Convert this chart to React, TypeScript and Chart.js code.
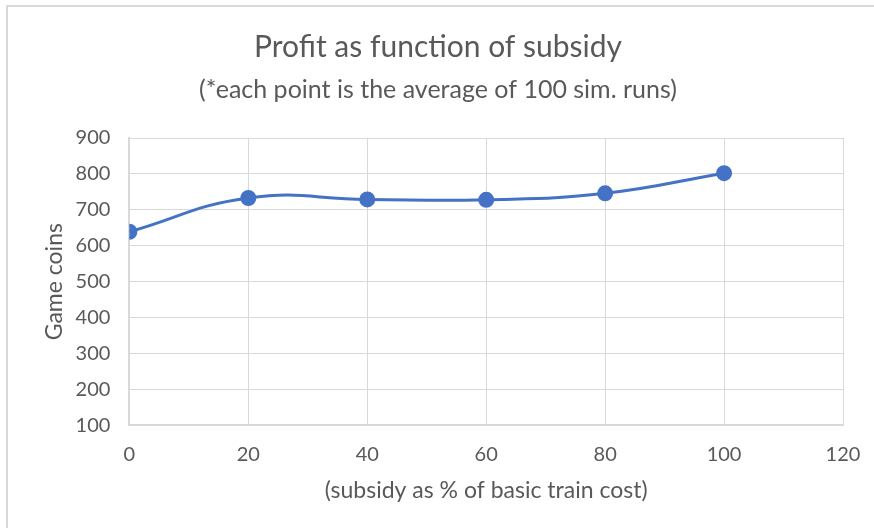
import React, { useEffect, useRef } from "react";
import { Chart, registerables } from "chart.js";

Chart.register(...registerables);

const subsidyPct = [0, 20, 40, 60, 80, 100];
const gameCoins = [639, 733, 729, 728, 746, 802];
const xTicks = [0, 20, 40, 60, 80, 100, 120];
const yTicks = [100, 200, 300, 400, 500, 600, 700, 800, 900];

const FONT = "Lato, 'Open Sans', sans-serif";
const TEXT = "#595959";
const GRID = "#d9d9d9";
const BLUE = "#4472C4";

export default function App() {
  const ref = useRef<HTMLCanvasElement>(null);
  useEffect(() => {
    if (!ref.current) return;
    const chart = new Chart(ref.current, {
      type: "scatter",
      data: {
        datasets: [
          {
            data: subsidyPct.map((x, i) => ({ x, y: gameCoins[i] })),
            showLine: true,
            borderColor: BLUE,
            backgroundColor: BLUE,
            borderWidth: 3,
            pointRadius: 6.5,
            pointHoverRadius: 6.5,
            tension: 0.45,
          },
        ],
      },
      options: {
        animation: false,
        responsive: false,
        maintainAspectRatio: false,
        layout: { padding: { left: 25, right: 31, top: 12, bottom: 24 } },
        plugins: {
          legend: { display: false },
          tooltip: { enabled: false },
          title: {
            display: true,
            text: "Profit as function of subsidy",
            color: TEXT,
            font: { family: FONT, size: 30, weight: "normal" },
            padding: { top: 10, bottom: 10 },
          },
          subtitle: {
            display: true,
            text: "(*each point is the average of 100 sim. runs)",
            color: TEXT,
            font: { family: FONT, size: 25, weight: "normal" },
            padding: { top: 0, bottom: 33 },
          },
        },
        scales: {
          x: {
            type: "linear",
            min: 0,
            max: 120,
            afterBuildTicks: (axis: any) => {
              axis.ticks = xTicks.map((v) => ({ value: v }));
            },
            afterFit: (axis: any) => {
              axis.paddingRight = 0;
            },
            grid: { color: GRID, lineWidth: 1, drawTicks: false },
            border: { color: GRID, width: 2 },
            ticks: {
              color: TEXT,
              font: { family: FONT, size: 20 },
              padding: 17,
              maxRotation: 0,
            },
            title: {
              display: true,
              text: "(subsidy as % of basic train cost)",
              color: TEXT,
              font: { family: FONT, size: 23 },
              padding: { top: -7, bottom: 0 },
            },
          },
          y: {
            type: "linear",
            min: 100,
            max: 900,
            afterBuildTicks: (axis: any) => {
              axis.ticks = yTicks.map((v) => ({ value: v }));
            },
            grid: { color: GRID, lineWidth: 1, drawTicks: false },
            border: { color: GRID, width: 2 },
            ticks: {
              color: TEXT,
              font: { family: FONT, size: 20 },
              padding: 19,
            },
            title: {
              display: true,
              text: "Game coins",
              color: TEXT,
              font: { family: FONT, size: 23 },
              padding: { top: 8, bottom: -12 },
            },
          },
        },
      },
    });
    return () => chart.destroy();
  }, []);
  return (
    <div
      style={{
        position: "absolute",
        left: 0,
        top: 0,
        width: 874,
        height: 528,
        background: "#fff",
        overflow: "hidden",
      }}
    >
      <div
        style={{
          position: "absolute",
          left: 6,
          top: 5,
          width: 868,
          height: 523,
          borderTop: "2px solid #d9d9d9",
          borderLeft: "2px solid #d9d9d9",
          boxSizing: "border-box",
        }}
      />
      <canvas
        ref={ref}
        width={866}
        height={521}
        style={{ position: "absolute", left: 8, top: 7, width: 866, height: 521 }}
      />
    </div>
  );
}
